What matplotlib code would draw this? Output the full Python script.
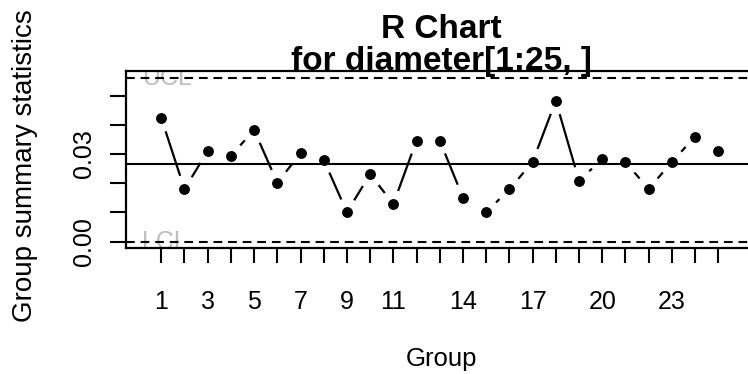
import numpy as np
import matplotlib.pyplot as plt

# sample ranges for the 25 groups of diameter
groups = list(range(1, 26))
ranges = [0.0423, 0.0180, 0.0310, 0.0294, 0.0382, 0.0202, 0.0302, 0.0280, 0.0101,
          0.0231, 0.0129, 0.0346, 0.0346, 0.0151, 0.0101, 0.0179, 0.0273, 0.0482,
          0.0209, 0.0282, 0.0273, 0.0180, 0.0273, 0.0359, 0.0309]
center = 0.0267
lcl = 0.0
ucl = 0.0561
xtick_labels = ["1", "3", "5", "7", "9", "11", "14", "17", "20", "23"]

W, H = 748, 374
fig = plt.figure(figsize=(W / 100, H / 100), dpi=100)
plt.rcParams['font.family'] = ['Liberation Sans', 'DejaVu Sans']

# plot region in pixels (right edge runs just past the figure)
left, right, top, bottom = 126, 753.5, 71, 248
ax = fig.add_axes([left / W, 1 - bottom / H, (right - left) / W, (bottom - top) / H])
ax.set_xlim(-0.52, 26.52)
ax.set_ylim(-0.00216, 0.0584)

for s in ax.spines.values():
    s.set_linewidth(1.6)

# control limits and centre line
dash = (0, (4.2, 2.8))
ax.axhline(center, color='black', lw=1.5, zorder=2)
ax.axhline(ucl, color='black', lw=1.5, ls=dash, zorder=2)
ax.axhline(lcl, color='black', lw=1.5, ls=dash, zorder=2)
ax.text(0.17, ucl, "UCL", color='#BEBEBE', fontsize=18, ha='left', va='center',
        zorder=1, clip_on=True)
ax.text(0.17, lcl, "LCL", color='#BEBEBE', fontsize=18, ha='left', va='center',
        zorder=1, clip_on=True)

# points joined by segments that stop short of each point (R type="b")
gap = 15
pts = ax.transData.transform(np.column_stack([groups, ranges]))
inv = ax.transData.inverted()
for p0, p1 in zip(pts[:-1], pts[1:]):
    d = np.hypot(*(p1 - p0))
    if d > 2 * gap:
        u = (p1 - p0) / d
        seg = inv.transform(np.array([p0 + u * gap, p1 - u * gap]))
        ax.plot(seg[:, 0], seg[:, 1], color='black', lw=1.6, zorder=3)
ax.plot(groups, ranges, 'o', color='black', markersize=6.8, zorder=4)

ax.set_xticks(groups)
ax.set_xticklabels([str(g) if str(g) in xtick_labels else "" for g in groups])
ax.set_yticks([0.00, 0.01, 0.02, 0.03, 0.04, 0.05])
ax.set_yticklabels(["0.00", "", "", "0.03", "", ""], rotation=90, va='center')
ax.tick_params(axis='x', length=11, width=1.5, pad=19, labelsize=18)
ax.tick_params(axis='y', length=11.5, width=1.5, pad=10, labelsize=18)

fig.text(441.5 / W, 1 - 38 / H, "R Chart", fontsize=24, fontweight='bold',
         ha='center', va='baseline')
fig.text(441.5 / W, 1 - 70 / H, "for diameter[1:25, ]", fontsize=24, fontweight='bold',
         ha='center', va='baseline')
fig.text(441.5 / W, 1 - 366 / H, "Group", fontsize=18.5, ha='center', va='baseline')
fig.text(32 / W, 1 - 322 / H, "Group summary statistics", fontsize=20, rotation=90,
         rotation_mode='anchor', ha='left', va='baseline')

fig.savefig("out.png", dpi=100)
